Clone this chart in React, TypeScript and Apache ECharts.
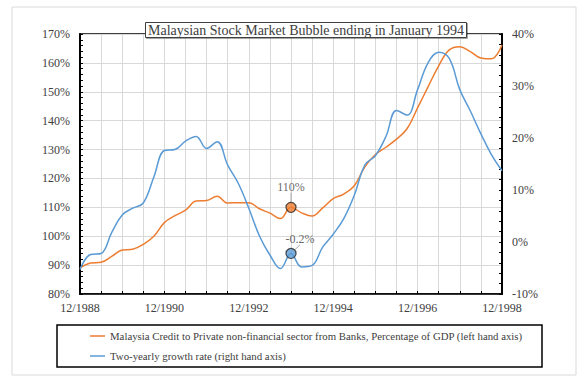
import React, { useEffect, useRef } from "react";
import * as echarts from "echarts";

const FONT = '"Liberation Serif", "Times New Roman", serif';
const TEXT = "#404040";
const ORANGE = "#ED7D31";
const BLUE = "#5B9BD5";
const GRID = "#d9d9d9";

const TITLE = "Malaysian Stock Market Bubble ending in January 1994";
const NAME_CREDIT =
  "Malaysia Credit to Private non-financial sector from Banks, Percentage of GDP (left hand axis)";
const NAME_GROWTH = "Two-yearly growth rate (right hand axis)";

// quarterly observation dates
const DATES = [
  "1988-12", "1989-03", "1989-06", "1989-09", "1989-12", "1990-03", "1990-06", "1990-09",
  "1990-12", "1991-03", "1991-06", "1991-09", "1991-12", "1992-03", "1992-06", "1992-09",
  "1992-12", "1993-03", "1993-06", "1993-09", "1993-12", "1994-03", "1994-06", "1994-09",
  "1994-12", "1995-03", "1995-06", "1995-09", "1995-12", "1996-03", "1996-06", "1996-09",
  "1996-12", "1997-03", "1997-06", "1997-09", "1997-12", "1998-03", "1998-06", "1998-09",
  "1998-12",
];

// credit to private non-financial sector, % of GDP (left axis)
const CREDIT = [
  89.0, 90.7, 91.0, 93.0, 95.2, 95.5, 97.2, 100.0,
  104.7, 107.1, 109.0, 112.2, 112.4, 113.8, 111.5, 111.6,
  111.6, 109.5, 108.0, 106.1, 110.0, 108.1, 107.0, 109.8,
  113.0, 114.6, 117.5, 124.0, 128.3, 130.8, 133.6, 137.2,
  144.4, 151.8, 159.0, 164.5, 165.6, 163.9, 161.7, 161.4,
  166.2,
];

// two-yearly growth rate, % (right axis)
const GROWTH = [
  -5.3, -2.4, -2.2, 1.8, 5.2, 6.5, 7.5, 12.5,
  17.6, 17.8, 19.4, 20.3, 18.0, 19.3, 14.8, 11.3,
  6.5, 1.2, -2.5, -5.1, -2.2, -4.8, -4.5, -1.0,
  1.5, 4.5, 9.0, 14.8, 16.6, 20.3, 25.3, 24.4,
  29.3, 34.5, 36.5, 35.3, 29.3, 25.2, 20.8, 16.8,
  13.7,
];

const X_TICK_LABELS = ["12/1988", "12/1990", "12/1992", "12/1994", "12/1996", "12/1998"];
const ANNOT_DATE = "1993-12";
const ANNOT_CREDIT_LABEL = "110%";
const ANNOT_GROWTH_LABEL = "-0.2%";

const monthIndex = (d: string) => {
  const [y, m] = d.split("-").map(Number);
  return (y - 1988) * 12 + (m - 12);
};

export default function App() {
  const ref = useRef<HTMLDivElement>(null);
  useEffect(() => {
    const chart = echarts.init(ref.current!, null, { renderer: "svg" });
    const xs = DATES.map(monthIndex);
    const ai = DATES.indexOf(ANNOT_DATE);
    const axisLabelStyle = { fontFamily: FONT, fontSize: 12, color: TEXT };
    chart.setOption({
      animation: false,
      backgroundColor: "#fff",
      textStyle: { fontFamily: FONT },
      title: {
        text: TITLE,
        left: 145,
        top: 22,
        padding: [1, 3, 1, 3],
        borderColor: "#404040",
        borderWidth: 1,
        backgroundColor: "#fff",
        shadowColor: "rgba(0,0,0,0.35)",
        shadowOffsetX: 1,
        shadowOffsetY: 1,
        shadowBlur: 1,
        textStyle: { fontFamily: FONT, fontSize: 14, fontWeight: "normal", color: TEXT },
        z: 10,
      },
      grid: {
        left: 80,
        right: 82,
        top: 34,
        bottom: 91,
        show: true,
        borderColor: "#000",
        borderWidth: 1.5,
      },
      legend: {
        orient: "vertical",
        left: 85,
        top: 324,
        icon: "rect",
        itemWidth: 15,
        itemHeight: 1.5,
        itemGap: 6,
        data: [NAME_CREDIT, NAME_GROWTH],
        textStyle: { fontFamily: FONT, fontSize: 10.8, color: TEXT, lineHeight: 14 },
      },
      graphic: [
        {
          type: "rect",
          shape: { x: 12, y: 7, width: 564, height: 368 },
          style: { fill: "none", stroke: GRID, lineWidth: 1 },
          silent: true,
        },
        {
          type: "rect",
          shape: { x: 57, y: 325, width: 485, height: 42 },
          style: { fill: "none", stroke: "#000", lineWidth: 1.5 },
          silent: true,
        },
      ],
      xAxis: {
        type: "value",
        min: 0,
        max: 120,
        interval: 6,
        axisLine: { show: true, onZero: false, lineStyle: { color: "#000", width: 1.5 } },
        axisTick: { show: true, inside: true, length: 3, lineStyle: { color: "#000" } },
        splitLine: { show: true, lineStyle: { color: GRID, width: 1 } },
        axisLabel: {
          ...axisLabelStyle,
          margin: 8,
          showMaxLabel: true,
          showMinLabel: true,
          formatter: (v: number) => (v % 24 === 0 ? X_TICK_LABELS[v / 24] : ""),
        },
      },
      yAxis: [
        {
          type: "value",
          min: 80,
          max: 170,
          interval: 10,
          axisLine: { show: true, lineStyle: { color: "#000", width: 2 } },
          axisTick: { show: true, inside: true, length: 3, lineStyle: { color: "#000" } },
          minorTick: { show: true, splitNumber: 5, length: 3, lineStyle: { color: "#000" } },
          splitLine: { show: true, lineStyle: { color: GRID, width: 1 } },
          axisLabel: { ...axisLabelStyle, margin: 10, formatter: (v: number) => `${v}%` },
        },
        {
          type: "value",
          min: -10,
          max: 40,
          interval: 10,
          position: "right",
          axisLine: { show: true, lineStyle: { color: "#000", width: 2 } },
          axisTick: { show: true, inside: true, length: 3, lineStyle: { color: "#000" } },
          minorTick: { show: true, splitNumber: 5, length: 3, lineStyle: { color: "#000" } },
          splitLine: { show: false },
          axisLabel: { ...axisLabelStyle, margin: 10, formatter: (v: number) => `${v}%` },
        },
      ],
      series: [
        {
          name: NAME_CREDIT,
          type: "line",
          yAxisIndex: 0,
          smooth: 0.4,
          symbol: "none",
          lineStyle: { color: ORANGE, width: 1.5 },
          itemStyle: { color: ORANGE },
          data: xs.map((x, i) => [x, CREDIT[i]]),
        },
        {
          name: NAME_GROWTH,
          type: "line",
          yAxisIndex: 1,
          smooth: 0.4,
          symbol: "none",
          lineStyle: { color: BLUE, width: 1.5 },
          itemStyle: { color: BLUE },
          data: xs.map((x, i) => [x, GROWTH[i]]),
        },
        {
          name: "annotCredit",
          type: "scatter",
          yAxisIndex: 0,
          symbolSize: 10,
          z: 5,
          itemStyle: { color: ORANGE, borderColor: "#262626", borderWidth: 1.2 },
          data: [[xs[ai], CREDIT[ai]]],
          label: {
            show: true,
            position: "top",
            distance: 4,
            formatter: ANNOT_CREDIT_LABEL,
            fontFamily: FONT,
            fontSize: 12,
            color: TEXT,
          },
          labelLayout: { dx: 0, dy: -5 },
          labelLine: { show: true, lineStyle: { color: "#a6a6a6", width: 1 } },
        },
        {
          name: "annotGrowth",
          type: "scatter",
          yAxisIndex: 1,
          symbolSize: 10,
          z: 5,
          itemStyle: { color: BLUE, borderColor: "#262626", borderWidth: 1.2 },
          data: [[xs[ai], GROWTH[ai]]],
          label: {
            show: true,
            position: "top",
            distance: 2,
            formatter: ANNOT_GROWTH_LABEL,
            fontFamily: FONT,
            fontSize: 12,
            color: TEXT,
          },
          labelLayout: { dx: 9, dy: -1 },
          labelLine: { show: true, lineStyle: { color: "#a6a6a6", width: 1 } },
        },
      ],
    });
    return () => chart.dispose();
  }, []);
  return (
    <div
      ref={ref}
      style={{ position: "fixed", left: 0, top: 0, width: 584, height: 385 }}
    />
  );
}
